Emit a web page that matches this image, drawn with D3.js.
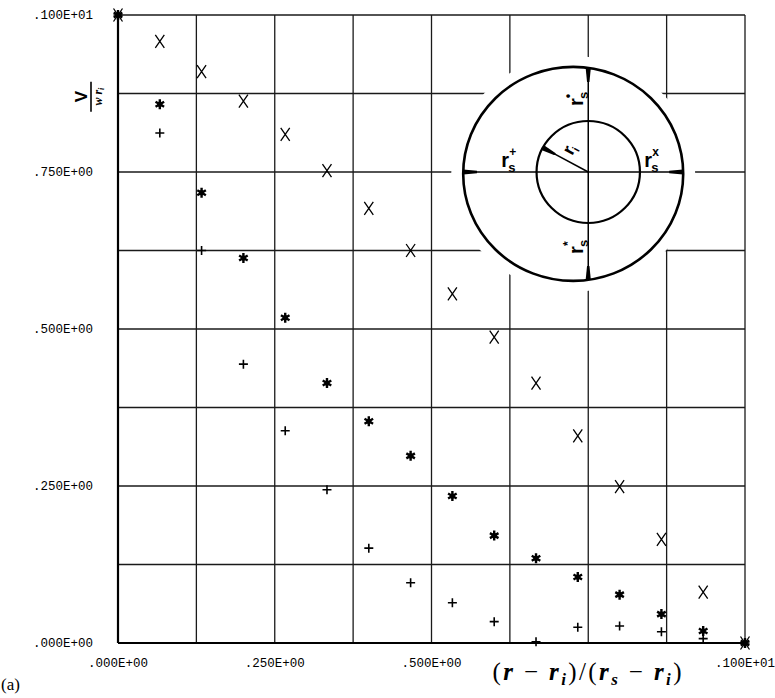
<!DOCTYPE html>
<html>
<head>
<meta charset="utf-8">
<script src="https://cdn.jsdelivr.net/npm/d3@7/dist/d3.min.js"></script>
<style>
    body { margin: 0; background: #fff; }
    svg { display: block; }
</style>
</head>
<body>
<script>
// radial position (r - ri)/(rs - ri), 16 stations
const xValues = [0, 0.0667, 0.1333, 0.2, 0.2667, 0.3333, 0.4, 0.4667, 0.5333, 0.6, 0.6667, 0.7333, 0.8, 0.8667, 0.9333, 1];

// V / (w ri) along the four directions (star and dot coincide)
const vCross = [1.0, 0.958, 0.910, 0.863, 0.810, 0.752, 0.692, 0.625, 0.556, 0.487, 0.414, 0.330, 0.249, 0.165, 0.081, 0.0];
const vStar = [1.0, 0.858, 0.717, 0.613, 0.518, 0.414, 0.353, 0.298, 0.234, 0.171, 0.135, 0.105, 0.077, 0.046, 0.019, 0.0];
const vPlus = [1.0, 0.812, 0.625, 0.444, 0.338, 0.244, 0.151, 0.096, 0.064, 0.034, 0.002, 0.025, 0.027, 0.018, 0.007, 0.0];

const gridTicks = [0, 0.125, 0.25, 0.375, 0.5, 0.625, 0.75, 0.875, 1];
const yTickLabels = [0, 0.25, 0.5, 0.75, 1];
const xTickLabels = [0, 0.25, 0.5, 1];

const
    width = 775,
    height = 698,
    margin = { top: 15, right: 30, bottom: 55, left: 118 };

const svg = d3.select("body").append("svg")
    .attr("width", width)
    .attr("height", height);

const x = d3.scaleLinear().domain([0, 1]).range([margin.left, width - margin.right]);
const y = d3.scaleLinear().domain([0, 1]).range([height - margin.bottom, margin.top]);

// fortran style .ddddE+xx labels
function eFormat(v) {
    if (v === 0) return ".000E+00";
    const e = Math.floor(Math.log10(v)) + 1;
    const m = Math.round(v / Math.pow(10, e) * 1000);
    return "." + String(m).padStart(3, "0") + "E" + (e < 0 ? "-" : "+") + String(Math.abs(e)).padStart(2, "0");
}

// grid
const grid = svg.append("g").attr("stroke", "#1a1a1a").attr("stroke-width", 1.3);
grid.selectAll(".v").data(gridTicks).join("line")
    .attr("x1", d => x(d)).attr("x2", d => x(d))
    .attr("y1", y(0)).attr("y2", y(1));
grid.selectAll(".h").data(gridTicks).join("line")
    .attr("x1", x(0)).attr("x2", x(1))
    .attr("y1", d => y(d)).attr("y2", d => y(d));

// axes
svg.append("g").attr("stroke", "#000").attr("stroke-width", 2.2)
    .call(g => g.append("line").attr("x1", x(0)).attr("x2", x(0)).attr("y1", y(0)).attr("y2", y(1)))
    .call(g => g.append("line").attr("x1", x(0)).attr("x2", x(1)).attr("y1", y(0)).attr("y2", y(0)));

const tickFont = "'Liberation Mono', 'DejaVu Sans Mono', monospace";

svg.append("g").selectAll("text").data(yTickLabels).join("text")
    .attr("x", x(0) - 25)
    .attr("y", d => y(d))
    .attr("dy", "0.35em")
    .attr("text-anchor", "end")
    .attr("font-family", tickFont)
    .attr("font-size", 12.5)
    .text(eFormat);

svg.append("g").selectAll("text").data(xTickLabels).join("text")
    .attr("x", d => x(d))
    .attr("y", y(0) + 20)
    .attr("dy", "0.35em")
    .attr("text-anchor", "middle")
    .attr("font-family", tickFont)
    .attr("font-size", 12.5)
    .text(eFormat);

// y axis title  V / (w ri)
const yt = svg.append("g").attr("transform", `translate(${x(0) - 27},${y(0.87)}) rotate(-90)`);
yt.append("text").attr("x", 0).attr("y", -4).attr("text-anchor", "middle")
    .attr("font-family", "'Liberation Sans', Arial, sans-serif").attr("font-weight", "bold")
    .attr("font-size", 17).text("V");
yt.append("line").attr("x1", -15).attr("x2", 15).attr("y1", 0).attr("y2", 0)
    .attr("stroke", "#000").attr("stroke-width", 1.6);
const den = yt.append("text").attr("x", 0).attr("y", 11).attr("text-anchor", "middle")
    .attr("font-family", "'Liberation Serif', serif").attr("font-style", "italic")
    .attr("font-weight", "bold")
    .attr("font-size", 12);
den.append("tspan").text("w r");
den.append("tspan").attr("font-size", 8).attr("dy", 2).text("i");

// x axis title
const xt = svg.append("text")
    .attr("x", x(0.748))
    .attr("y", y(0) + 37)
    .attr("text-anchor", "middle")
    .attr("textLength", 189)
    .attr("lengthAdjust", "spacing")
    .attr("font-family", "'Liberation Serif', 'DejaVu Serif', serif")
    .attr("font-size", 25);
const parts = [
    ["(", false, 0], ["r", true, 0], [" \u2212 ", false, 0], ["r", true, 0], ["i", true, 1],
    [")/(", false, 0], ["r", true, 0], ["s", true, 1], [" \u2212 ", false, 0], ["r", true, 0], ["i", true, 1], [")", false, 0]
];
let shift = 0;
parts.forEach(([t, it, sub]) => {
    const s = xt.append("tspan").text(t);
    if (it) s.attr("font-style", "italic").attr("font-weight", "bold");
    if (sub) s.attr("font-size", 17);
    const dy = (sub ? 5 : 0) - shift;
    if (dy) s.attr("dy", dy);
    shift = sub ? 5 : 0;
});

svg.append("text")
    .attr("x", 1)
    .attr("y", height - 8)
    .attr("font-family", "'Liberation Serif', serif")
    .attr("font-size", 17)
    .text("(a)");

// inset: eccentric annulus
const
    inner = { cx: x(0.75), cy: y(0.75), rx: 51.7, ry: 51 },
    outer = { cx: x(0.726), cy: y(0.747), rx: 110, ry: 107 };

const defs = svg.append("defs");
defs.append("marker")
    .attr("id", "tip")
    .attr("viewBox", "0 -3 14 6")
    .attr("refX", 14).attr("refY", 0)
    .attr("markerUnits", "userSpaceOnUse")
    .attr("markerWidth", 14).attr("markerHeight", 6)
    .attr("orient", "auto")
    .append("path").attr("d", "M0,-1.2L14,-2.6L14,2.6L0,1.2Z").attr("fill", "#000");

const inset = svg.append("g").attr("fill", "none").attr("stroke", "#000");
// clear the grid round the drawing
inset.append("ellipse")
    .attr("cx", outer.cx).attr("cy", outer.cy).attr("rx", outer.rx + 12).attr("ry", outer.ry + 11)
    .attr("fill", "#fff").attr("stroke", "none");
inset.append("ellipse").attr("cx", outer.cx).attr("cy", outer.cy)
    .attr("rx", outer.rx).attr("ry", outer.ry).attr("stroke-width", 2.6);
inset.append("ellipse").attr("cx", inner.cx).attr("cy", inner.cy)
    .attr("rx", inner.rx).attr("ry", inner.ry).attr("stroke-width", 2.2);

// where the rays from the inner centre meet the outer wall
const dx = inner.cx - outer.cx;
const dyc = inner.cy - outer.cy;
const reachX = outer.rx * Math.sqrt(1 - (dyc * dyc) / (outer.ry * outer.ry));
const reachY = outer.ry * Math.sqrt(1 - (dx * dx) / (outer.rx * outer.rx));
const rays = [
    [outer.cx - reachX, inner.cy],
    [outer.cx + reachX, inner.cy],
    [inner.cx, outer.cy - reachY],
    [inner.cx, outer.cy + reachY]
];
rays.forEach(([ex, ey]) => {
    inset.append("line")
        .attr("x1", inner.cx).attr("y1", inner.cy)
        .attr("x2", ex).attr("y2", ey)
        .attr("stroke-width", 1.5)
        .attr("marker-end", "url(#tip)");
});
const riAngle = (180 + 28.5) * Math.PI / 180;
inset.append("line")
    .attr("x1", inner.cx).attr("y1", inner.cy)
    .attr("x2", inner.cx + inner.rx * Math.cos(riAngle))
    .attr("y2", inner.cy + inner.ry * Math.sin(riAngle))
    .attr("stroke-width", 1.5)
    .attr("marker-end", "url(#tip)");

const labelFont = "'Liberation Sans', Arial, sans-serif";
function rsLabel(px, py, sup, rot) {
    const g = svg.append("g")
        .attr("transform", `translate(${px},${py}) rotate(${rot})`)
        .attr("font-family", labelFont)
        .attr("font-weight", "bold");
    g.append("text").attr("font-size", 20).text("r");
    g.append("text").attr("x", 7).attr("y", 5).attr("font-size", 13).text("s");
    g.append("text").attr("x", 8).attr("y", -11).attr("font-size", 12).text(sup);
}
rsLabel(inner.cx - 87, inner.cy - 5, "+", 0);
rsLabel(inner.cx + 56, inner.cy - 5, "x", 0);
rsLabel(inner.cx - 5, inner.cy - 66, "\u2022", -90);
rsLabel(inner.cx - 5, inner.cy + 82, "*", -90);

const ri = svg.append("g")
    .attr("transform", `translate(${inner.cx - 16},${inner.cy - 16}) rotate(-62)`)
    .attr("font-family", labelFont)
    .attr("font-weight", "bold");
ri.append("text").attr("font-size", 18).text("r");
ri.append("text").attr("x", 6).attr("y", 4).attr("font-size", 11).text("i");

// markers
const marks = svg.append("g").attr("stroke", "#000").attr("fill", "none");

const crossPts = xValues.map((v, i) => [v, vCross[i]]);
const starPts = xValues.map((v, i) => [v, vStar[i]]);
const plusPts = xValues.map((v, i) => [v, vPlus[i]]);

marks.append("g").attr("stroke-width", 1.6)
    .selectAll("path").data(plusPts).join("path")
    .attr("transform", d => `translate(${x(d[0])},${y(d[1])})`)
    .attr("d", "M-4.5,0H4.5M0,-4.5V4.5");

const starG = marks.append("g").selectAll("g").data(starPts).join("g")
    .attr("transform", d => `translate(${x(d[0])},${y(d[1])})`);
starG.append("path").attr("stroke-width", 2.4)
    .attr("d", "M0,-5V5M-4.3,-2.5L4.3,2.5M-4.3,2.5L4.3,-2.5");
starG.append("circle").attr("r", 2.6).attr("fill", "#000").attr("stroke", "none");

marks.append("g").attr("stroke-width", 1.3)
    .selectAll("path").data(crossPts).join("path")
    .attr("transform", d => `translate(${x(d[0])},${y(d[1])})`)
    .attr("d", "M-4.5,-6.5L4.5,6.5M-4.5,6.5L4.5,-6.5");
</script>
</body>
</html>
